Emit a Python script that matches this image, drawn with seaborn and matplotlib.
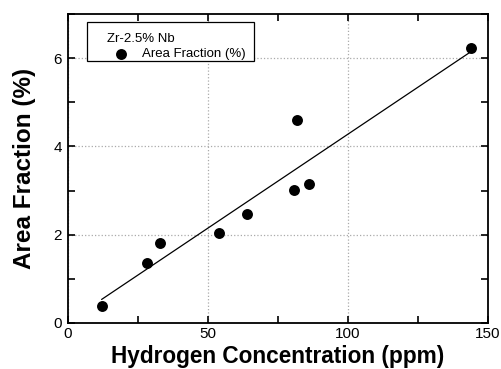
import matplotlib
matplotlib.use("Agg")
import matplotlib.pyplot as plt
import seaborn as sns
import pandas as pd
from matplotlib.ticker import MultipleLocator
from matplotlib.patches import Rectangle

hydrogen_ppm = [12.0, 28.1, 33.0, 53.9, 63.9, 80.8, 81.8, 86.0, 143.8]
area_fraction = [0.39, 1.35, 1.81, 2.03, 2.48, 3.01, 4.60, 3.14, 6.22]
legend_title = "Zr-2.5% Nb"
series_label = "Area Fraction (%)"

df = pd.DataFrame({"x": hydrogen_ppm, "y": area_fraction})

sns.set_style("ticks")
plt.rcParams['font.family'] = ['Liberation Sans', 'DejaVu Sans']
plt.rcParams.update({"text.color": "black", "axes.labelcolor": "black",
                     "xtick.color": "black", "ytick.color": "black"})

fig = plt.figure(figsize=(5.01, 3.69), dpi=100)
ax = fig.add_axes([68/501, 1 - 323/369, (488-68)/501, (323-14)/369])

sns.regplot(data=df, x="x", y="y", ax=ax, ci=None, scatter=False,
            line_kws=dict(color="black", lw=0.9))
sns.scatterplot(data=df, x="x", y="y", ax=ax, color="black", s=62,
                edgecolor="black", linewidth=0, label=series_label, zorder=5)

ax.set_xlim(0, 150)
ax.set_ylim(0, 7)
ax.xaxis.set_major_locator(MultipleLocator(50))
ax.xaxis.set_minor_locator(MultipleLocator(25))
ax.yaxis.set_major_locator(MultipleLocator(2))
ax.yaxis.set_minor_locator(MultipleLocator(1))
ax.tick_params(which="both", direction="in", top=True, right=True, labelsize=11,
               width=1.2, color="black", labelcolor="black", length=5)
ax.tick_params(axis="x", which="major", pad=3)
ax.tick_params(axis="y", which="major", pad=4.5)
ax.grid(True, which="major", color="#aaaaaa", linestyle=":", linewidth=0.9)
for s in ax.spines.values():
    s.set_linewidth(1.3)
    s.set_color("black")

ax.set_xlabel("Hydrogen Concentration (ppm)", fontsize=16.3, fontweight="bold")
ax.set_ylabel("Area Fraction (%)", fontsize=17.5, fontweight="bold")
ax.xaxis.set_label_coords(0.5, (323 - 344.8) / 309, transform=ax.transAxes)
ax.xaxis.label.set_va("top")
ax.yaxis.set_label_coords(-0.077, 0.5)

# legend frame
frame = Rectangle((0.0459, 0.849), 0.397, 0.1243, transform=ax.transAxes,
                  facecolor="white", edgecolor="black", linewidth=0.9, zorder=8)
ax.add_patch(frame)

leg = ax.legend(title=legend_title, loc="upper left", bbox_to_anchor=(0.0921, 0.94),
                borderaxespad=0, borderpad=0, frameon=False, fontsize=9.5,
                title_fontsize=9.5, markerscale=1, handlelength=2.17,
                handletextpad=0.49, labelspacing=0.25, alignment="left")
leg.set_zorder(10)

fig.savefig("out.png", dpi=100)
